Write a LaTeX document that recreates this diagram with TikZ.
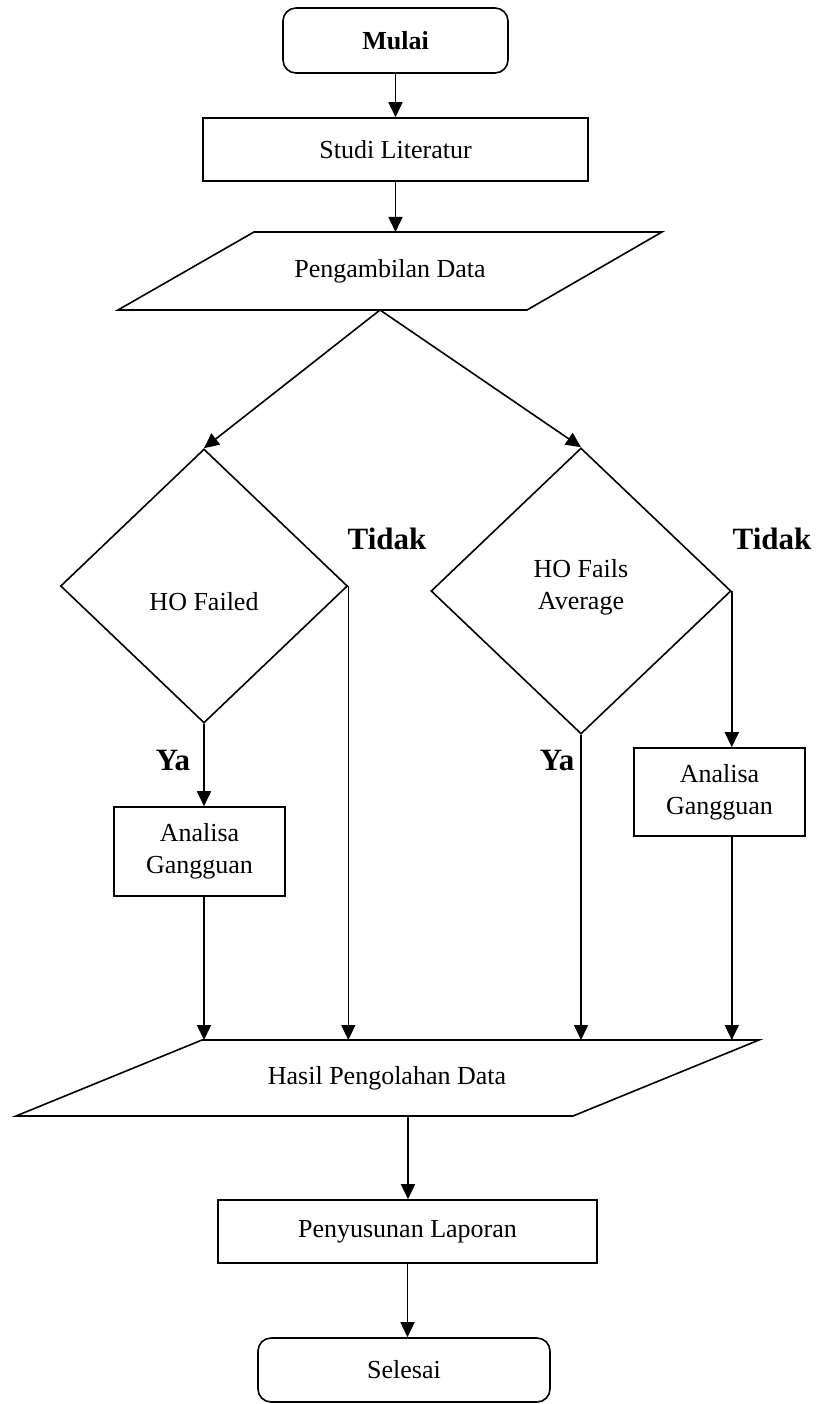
\documentclass[tikz,border=0pt]{standalone}
\usepackage{fontspec}
\setmainfont{Liberation Serif}
\usetikzlibrary{shapes.geometric,arrows.meta}
\begin{document}
\begin{tikzpicture}[x=1pt,y=-1pt,line width=1.6pt,
  every node/.style={font=\fontsize{26}{32}\selectfont},
  flow/.style={-{Triangle[length=15pt,width=14pt]}},
  box/.style={draw,rectangle,inner sep=0pt},
  term/.style={box,rounded corners=13pt},
  decision/.style={draw,diamond,inner sep=0pt},
  lbl/.style={font=\fontsize{31}{36}\selectfont\bfseries}]
  \useasboundingbox (0,0) rectangle (816,1404);

  % start and first process
  \node[term,minimum width=225pt,minimum height=65pt,font=\fontsize{26}{32}\selectfont\bfseries]
    (mulai) at (395.5,40.5) {Mulai};
  \node[box,minimum width=385pt,minimum height=63pt] (studi) at (395.5,149.5) {Studi Literatur};

  % data input (parallelogram)
  \coordinate (p1) at (254,232);
  \coordinate (p2) at (662,232);
  \coordinate (p3) at (527,310);
  \coordinate (p4) at (118,310);
  \draw (p1) -- (p2) -- (p3) -- (p4) -- cycle;
  \node (peng) at (390,271) {Pengambilan Data};
  \coordinate (pengtop) at (395.5,232);
  \coordinate (pengbot) at (380,310);

  % decisions
  \node[decision,minimum width=287pt,minimum height=274pt] (d1) at (204,586) {};
  \node (t1) at (204,602) {HO Failed};
  \node[decision,minimum width=300pt,minimum height=286pt] (d2) at (581,591) {};
  \node[align=center] (t2) at (581,587) {HO Fails\\Average};

  % analysis boxes
  \node[box,minimum width=171pt,minimum height=89pt,align=center] (a1) at (199.5,851.5) {Analisa\\Gangguan};
  \node[box,minimum width=171pt,minimum height=88pt,align=center] (a2) at (719.5,792) {Analisa\\Gangguan};

  % results (parallelogram)
  \coordinate (h1) at (202,1040);
  \coordinate (h2) at (759,1040);
  \coordinate (h3) at (573,1116);
  \coordinate (h4) at (16,1116);
  \draw (h1) -- (h2) -- (h3) -- (h4) -- cycle;
  \node (hasil) at (387,1078) {Hasil Pengolahan Data};
  \coordinate (hasiltop) at (400,1040);
  \coordinate (hasilbot) at (408,1116);

  % report and end
  \node[box,minimum width=379pt,minimum height=63pt] (pen) at (407.5,1231.5) {Penyusunan Laporan};
  \node[term,minimum width=292pt,minimum height=64pt] (sel) at (404,1370) {Selesai};

  % connectors
  \draw[flow] (mulai.south) -- (studi.north);
  \draw[flow] (studi.south) -- (pengtop);
  \draw[flow] (pengbot) -- (d1.north);
  \draw[flow] (pengbot) -- (d2.north);
  \draw[flow] (d1.south) -- (d1.south |- a1.north);
  \draw[flow] (d2.east) -- (d2.east |- a2.north);
  \draw[flow] (d1.south |- a1.south) -- (d1.south |- hasiltop);
  \draw[flow] (d1.east) -- (d1.east |- hasiltop);
  \draw[flow] (d2.south) -- (d2.south |- hasiltop);
  \draw[flow] (d2.east |- a2.south) -- (d2.east |- hasiltop);
  \draw[flow] (hasilbot) -- (hasilbot |- pen.north);
  \draw[flow] (pen.south) -- (pen.south |- sel.north);

  % branch labels
  \node[lbl] (ya1) at (173,760) {Ya};
  \node[lbl] (ya2) at (557,760) {Ya};
  \node[lbl] (tidak1) at (387,539) {Tidak};
  \node[lbl] (tidak2) at (772,539) {Tidak};
\end{tikzpicture}
\end{document}
